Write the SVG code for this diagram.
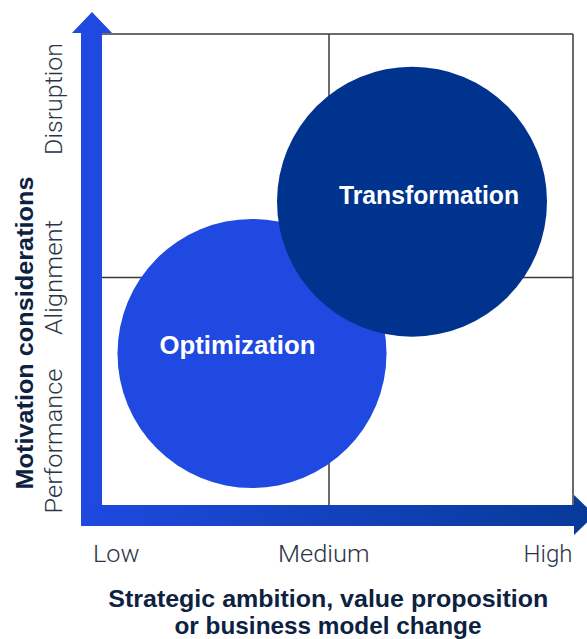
<svg xmlns="http://www.w3.org/2000/svg" width="587" height="639" viewBox="0 0 587 639">
  <defs>
    <linearGradient id="hgrad" x1="81" y1="0" x2="595" y2="0" gradientUnits="userSpaceOnUse">
      <stop offset="0" stop-color="#1f49e0"/>
      <stop offset="1" stop-color="#063a98"/>
    </linearGradient>
  </defs>
  <style>
    .grid { stroke: #3a3a3a; stroke-width: 1.5; fill: none; }
    .lvl { font-family: Roboto, "Liberation Sans", sans-serif; font-weight: 300; font-size: 24px; fill: #2b3445; }
    .title { font-family: "Liberation Sans", Arial, sans-serif; font-weight: bold; font-size: 24px; fill: #0d2240; }
    .node-label { font-family: "Liberation Sans", Arial, sans-serif; font-weight: bold; font-size: 25px; fill: #ffffff; }
  </style>
  <rect width="587" height="639" fill="#ffffff"/>

  <!-- grid -->
  <g id="grid">
    <line class="grid" x1="102" y1="34" x2="573" y2="34"/>
    <line class="grid" x1="102" y1="277.5" x2="573" y2="277.5"/>
    <line class="grid" x1="329" y1="34" x2="329" y2="505"/>
    <line class="grid" x1="573" y1="34" x2="573" y2="505"/>
  </g>

  <!-- nodes -->
  <g id="optimization">
    <circle cx="252" cy="353.5" r="134.5" fill="#1f49e0"/>
    <text class="node-label" x="237.5" y="354" text-anchor="middle" textLength="156" lengthAdjust="spacingAndGlyphs">Optimization</text>
  </g>
  <g id="transformation">
    <circle cx="412" cy="201.7" r="135" fill="#00338d"/>
    <text class="node-label" x="429" y="204" text-anchor="middle" textLength="180" lengthAdjust="spacingAndGlyphs">Transformation</text>
  </g>

  <!-- axes -->
  <g id="axes">
    <polygon fill="#1f49e0" points="81,526 81,33 72,33 92,12 112,33 102,33 102,526"/>
    <polygon fill="url(#hgrad)" points="81,505 574,505 574,495 595,515 574,535 574,526 81,526"/>
  </g>

  <!-- axis labels -->
  <g id="y-labels">
    <text class="lvl" transform="translate(62,99) rotate(-90)" text-anchor="middle" textLength="112" lengthAdjust="spacingAndGlyphs">Disruption</text>
    <text class="lvl" transform="translate(62,277.5) rotate(-90)" text-anchor="middle" textLength="115" lengthAdjust="spacingAndGlyphs">Alignment</text>
    <text class="lvl" transform="translate(62,441) rotate(-90)" text-anchor="middle" textLength="145" lengthAdjust="spacingAndGlyphs">Performance</text>
    <text class="title" transform="translate(33,333) rotate(-90)" text-anchor="middle" textLength="313" lengthAdjust="spacingAndGlyphs">Motivation considerations</text>
  </g>
  <g id="x-labels">
    <text class="lvl" x="93" y="561.5" textLength="46.5" lengthAdjust="spacingAndGlyphs">Low</text>
    <text class="lvl" x="278" y="561.5" textLength="91.5" lengthAdjust="spacingAndGlyphs">Medium</text>
    <text class="lvl" x="523.5" y="561.5" textLength="49" lengthAdjust="spacingAndGlyphs">High</text>
    <text class="title" x="328.3" y="606.5" text-anchor="middle" textLength="440" lengthAdjust="spacingAndGlyphs">Strategic ambition, value proposition</text>
    <text class="title" x="328" y="634" text-anchor="middle" textLength="307" lengthAdjust="spacingAndGlyphs">or business model change</text>
  </g>
</svg>
